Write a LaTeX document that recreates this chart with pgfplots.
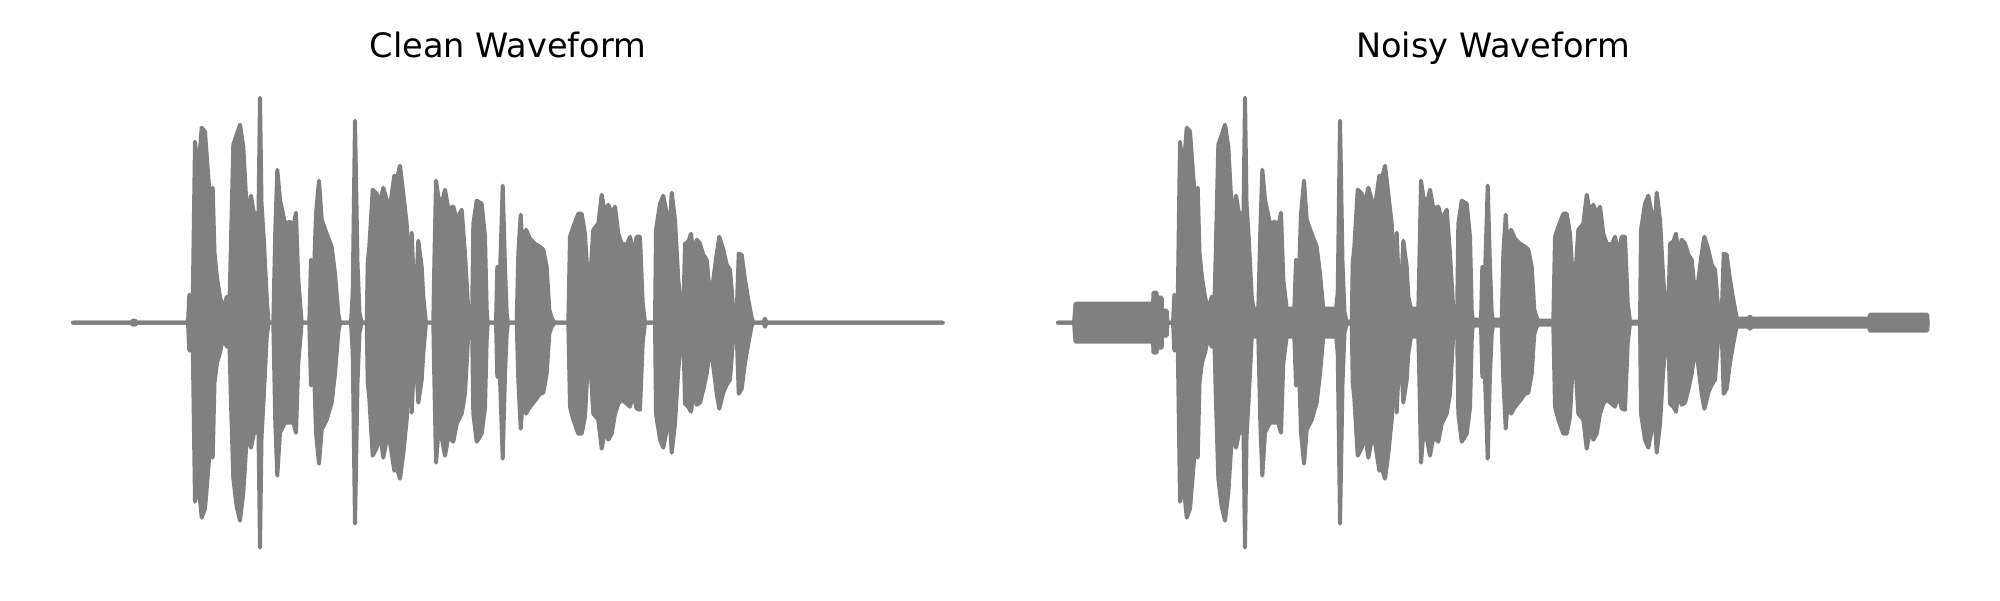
\documentclass[border=0pt]{standalone}
\usepackage{pgfplots}
\pgfplotsset{compat=1.18}
\usepgfplotslibrary{fillbetween}
\usepackage{pgfplotstable}
\usepackage{fontspec}
\setmainfont{DejaVu Sans}

\pgfplotstableread{
x up lo
73 0 0
131 0 0
133 2 -2
135 2 -2
137 0 0
188 0 0
189.3 28 -28
190.5 0 0
192 0 0
193 40 -40
195 181 -179
198.3 150 -160
201.7 195 -195
205 191 -186
208 150 -150
211 110 -110
212.7 135 -135
214.5 70 -60
217 45 -40
220 26 -30
223.3 12 -14
226.7 26 -24
229 2 -2
230.7 69 -70
233.3 178 -156
236.7 188 -184
240 198 -198
243.3 176 -170
247.3 103 -107
251 127 -125
254 109 -110
258.5 110 -110
260 225 -225
261.5 120 -115
264 80 -70
266.7 26 -15
268.5 0 0
273.3 0 0
275.3 93 -100
277.3 153 -153
280 123 -110
285 99 -100
290 101 -100
293.3 96 -100
296 110 -110
298.3 43 -40
301.7 0 0
309.3 0 0
311 63 -63
313.3 29 -24
316 109 -110
319 142 -141
321.7 103 -107
326.7 89 -97
331.7 76 -80
335 49 -51
338.3 9 -10
340 0 0
351 0 0
352.7 30 -30
355 202 -201
357.5 60 -60
359.5 10 -10
361.7 0 0
366.7 0 0
367.7 60 -60
369.3 76 -76
372.7 133 -133
376.7 129 -125
380 119 -111
383.3 135 -135
386.7 123 -117
390 116 -120
394.3 147 -148
396.7 143 -145
400 157 -156
403.3 129 -131
406.7 99 -97
410 26 -24
411.7 90 -90
415 9 -17
418.3 82 -80
421.7 56 -57
423.3 26 -31
426 0 0
433.3 0 0
434 43 -40
436 142 -140
438.3 126 -111
441.7 118 -115
445 133 -133
448.3 114 -114
453.3 116 -119
456.7 103 -101
461.7 113 -91
465 69 -71
468.3 13 -11
470.7 0 0
472 0 0
473.3 99 -91
476.7 122 -119
481.7 119 -111
485 86 -85
486.7 13 -17
487.7 0 0
496 0 0
497.3 56 -54
500 49 -55
502.7 137 -136
505 56 -51
506.7 9 -11
508 0 0
516.7 0 0
518.3 69 -57
520.7 108 -106
523.3 60 -70
526 93 -91
530 84 -84
535 79 -78
540 76 -71
543.3 73 -70
546.7 56 -51
549.3 13 -11
551.7 5 -4
553.3 2 -2
555 0 0
568.3 0 0
570 86 -84
573.3 96 -97
578.3 109 -111
581.7 109 -111
585 89 -94
588.3 36 -31
590 43 -37
593.3 93 -91
598.3 99 -97
601.7 128 -126
605 109 -107
608.3 118 -117
611.7 109 -111
615 116 -91
618.3 89 -81
621.7 79 -77
626.7 78 -81
630 86 -84
633.3 69 -71
636.7 86 -86
640 86 -87
642.7 20 -20
645 0 0
655 0 0
656 93 -91
660 119 -117
663.3 127 -125
666.7 109 -107
669.3 90 -90
671.7 130 -130
675 103 -101
678.3 43 -47
681.7 9 -11
683.3 9 -9
685 79 -81
688.3 81 -84
691 89 -89
693.3 69 -70
696.7 83 -82
700 79 -80
703.3 68 -67
706.7 63 -51
710 29 -27
711.7 26 -30
713.3 43 -44
716.7 69 -71
719.3 86 -86
723.3 73 -70
726.7 58 -62
730 53 -57
733.3 13 -14
736.7 9 -11
738.7 69 -71
741.7 68 -66
745 43 -40
748.3 23 -21
751.7 5 -3
753.3 0 0
763.3 0 0
765 4 -4
766.7 0 0
942.7 0 0
}\clean

\pgfplotstableread{
x up lo
73 0 0
89 0 0
90.5 19 -19
168 19 -19
168.5 30 -30
171.5 30 -30
172 25 -25
176.7 25 -25
177 12 -13
181.7 12 -13
182.5 0 0
188 0 0
189.3 28 -28
190.5 0 0
192 0 0
193 40 -40
195 181 -179
198.3 150 -160
201.7 195 -195
205 191 -186
208 150 -150
211 110 -110
212.7 135 -135
214.5 70 -60
217 45 -40
220 26 -30
223.3 12 -14
226.7 26 -24
229 2 -2
230.7 69 -70
233.3 178 -156
236.7 188 -184
240 198 -198
243.3 176 -170
247.3 103 -107
251 127 -125
254 109 -110
258.5 110 -110
260 225 -225
261.5 120 -115
264 80 -70
266.7 26 -15
268.5 14 -14
273.3 14 -14
275.3 93 -100
277.3 153 -153
280 123 -110
285 99 -100
290 101 -100
293.3 96 -100
296 110 -110
298.3 43 -40
301.7 14 -14
309.3 14 -14
311 63 -63
313.3 29 -24
316 109 -110
319 142 -141
321.7 103 -107
326.7 89 -97
331.7 76 -80
335 49 -51
338.3 14 -14
340 14 -14
351 14 -14
352.7 30 -30
355 202 -201
357.5 60 -60
359.5 10 -10
361.7 1 -1
366.7 1 -1
367.7 60 -60
369.3 76 -76
372.7 133 -133
376.7 129 -125
380 119 -111
383.3 135 -135
386.7 123 -117
390 116 -120
394.3 147 -148
396.7 143 -145
400 157 -156
403.3 129 -131
406.7 99 -97
410 26 -24
411.7 90 -90
415 9 -17
418.3 82 -80
421.7 56 -57
423.3 26 -31
426 14 -14
433.3 14 -14
434 43 -40
436 142 -140
438.3 126 -111
441.7 118 -115
445 133 -133
448.3 114 -114
453.3 116 -119
456.7 103 -101
461.7 113 -91
465 69 -71
468.3 13 -11
470.7 1 -1
472 1 -1
473.3 99 -91
476.7 122 -119
481.7 119 -111
485 86 -85
486.7 13 -17
487.7 3 -3
496 3 -3
497.3 56 -54
500 49 -55
502.7 137 -136
505 56 -51
506.7 9 -11
508 3 -3
516.7 3 -3
518.3 69 -57
520.7 108 -106
523.3 60 -70
526 93 -91
530 84 -84
535 79 -78
540 76 -71
543.3 73 -70
546.7 56 -51
549.3 13 -11
551.7 5 -4
553.3 2 -2
555 2 -2
568.3 2 -2
570 86 -84
573.3 96 -97
578.3 109 -111
581.7 109 -111
585 89 -94
588.3 36 -31
590 43 -37
593.3 93 -91
598.3 99 -97
601.7 128 -126
605 109 -107
608.3 118 -117
611.7 109 -111
615 116 -91
618.3 89 -81
621.7 79 -77
626.7 78 -81
630 86 -84
633.3 69 -71
636.7 86 -86
640 86 -87
642.7 20 -20
645 1 -1
655 1 -1
656 93 -91
660 119 -117
663.3 127 -125
666.7 109 -107
669.3 90 -90
671.7 130 -130
675 103 -101
678.3 43 -47
681.7 9 -11
683.3 9 -9
685 79 -81
688.3 81 -84
691 89 -89
693.3 69 -70
696.7 83 -82
700 79 -80
703.3 68 -67
706.7 63 -51
710 29 -27
711.7 26 -30
713.3 43 -44
716.7 69 -71
719.3 86 -86
723.3 73 -70
726.7 58 -62
730 53 -57
733.3 13 -14
736.7 9 -11
738.7 69 -71
741.7 68 -66
745 43 -40
748.3 23 -21
751.7 5 -3
753.3 4 -4
763.3 4 -4
765 6 -6
766.7 4 -4
884 4 -4
885 8 -8
942.2 8 -8
942.7 0 0
}\noisy

\pgfplotsset{
  wave/.style={
    at={#1}, anchor=south west, scale only axis,
    width=435pt, height=226pt,
    xmin=73, xmax=943, ymin=-226, ymax=226,
    axis lines=none, clip=false,
  },
  env/.style={draw=gray, line width=2pt, line join=round, line cap=round},
}

\begin{document}
\begin{tikzpicture}
\begin{axis}[wave={(36.5pt,25.65pt)}]
  \addplot[env, name path=cu] table[x=x, y=up] {\clean};
  \addplot[env, name path=cl] table[x=x, y=lo] {\clean};
  \addplot[gray] fill between[of=cu and cl];
  \node[anchor=base, font=\fontsize{16.8}{20}\selectfont, yshift=19.5pt] at (rel axis cs:0.5,1) {Clean Waveform};
\end{axis}
\begin{axis}[wave={(529pt,25.65pt)}]
  \addplot[env, name path=nu] table[x=x, y=up] {\noisy};
  \addplot[env, name path=nl] table[x=x, y=lo] {\noisy};
  \addplot[gray] fill between[of=nu and nl];
  \node[anchor=base, font=\fontsize{16.8}{20}\selectfont, yshift=19.5pt] at (rel axis cs:0.5,1) {Noisy Waveform};
\end{axis}
\path (0,0) rectangle (1000pt,300pt);
\end{tikzpicture}
\end{document}
